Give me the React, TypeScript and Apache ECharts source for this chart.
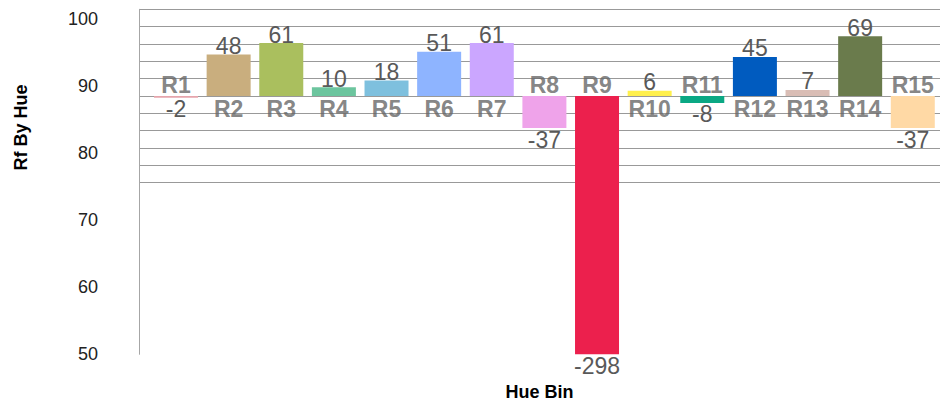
import React, { useEffect, useRef } from "react";
import * as echarts from "echarts";

const categories = ["R1", "R2", "R3", "R4", "R5", "R6", "R7", "R8", "R9", "R10", "R11", "R12", "R13", "R14", "R15"];
const values = [-2, 48, 61, 10, 18, 51, 61, -37, -298, 6, -8, 45, 7, 69, -37];
const barColors = [
  "#E6A5AC", "#C9AE7E", "#AABF5E", "#6CC59E", "#7EC0DE", "#8EB4FF", "#CBA6FF", "#EFA3EA",
  "#EC204D", "#FFF04D", "#0AA884", "#005BBF", "#D9BDB5", "#6A7B4C", "#FFD9A5",
];
const leftTicks = [50, 60, 70, 80, 90, 100];
const gridValues = [-100, 100]; // gridline range (every 20)

const FONT = "'Liberation Sans', Arial, sans-serif";

export default function App() {
  const ref = useRef<HTMLDivElement>(null);
  useEffect(() => {
    document.body.style.margin = "0";
    if (!ref.current) return;
    const chart = echarts.init(ref.current, null, { renderer: "svg" });
    const option: any = {
      animation: false,
      textStyle: { fontFamily: FONT },
      grid: [
        { left: 149.7, right: 0.9, top: 9.3, bottom: 48.7, outerBoundsMode: "none", containLabel: false },
        { left: 139, right: 0, top: 9.3, bottom: 220.3, outerBoundsMode: "none", containLabel: false },
      ],
      graphic: [
        {
          type: "text",
          x: 21,
          y: 127.5,
          rotation: Math.PI / 2,
          style: {
            text: "Rf By Hue",
            fontFamily: FONT,
            fontWeight: "bold",
            fontSize: 18,
            fill: "#000",
            textAlign: "center",
            textVerticalAlign: "middle",
          },
        },
      ],
      xAxis: [
        {
          type: "category",
          gridIndex: 0,
          data: categories,
          axisLine: { show: false },
          axisTick: { show: false },
          axisLabel: { show: false },
          splitLine: { show: false },
        },
        {
          type: "value",
          gridIndex: 1,
          axisLine: { show: false },
          axisTick: { show: false },
          axisLabel: { show: false },
          splitLine: { show: false },
          name: "Hue Bin",
          nameLocation: "middle",
          nameGap: 200,
          nameTextStyle: { fontFamily: FONT, fontWeight: "bold", fontSize: 18, color: "#000" },
        },
      ],
      yAxis: [
        {
          type: "value",
          gridIndex: 0,
          position: "right",
          min: -298,
          max: 100,
          show: false,
        },
        {
          type: "value",
          gridIndex: 0,
          position: "left",
          offset: 10.7,
          min: leftTicks[0],
          max: 101.5,
          interval: 10,
          axisLine: { show: true, lineStyle: { color: "#A6A6A6", width: 1 } },
          axisTick: { show: false },
          splitLine: { show: false },
          axisLabel: {
            show: true,
            margin: 41,
            fontSize: 18,
            color: "#222",
            fontFamily: FONT,
            showMaxLabel: false,
            formatter: (v: number) => (leftTicks.indexOf(v) >= 0 ? String(v) : ""),
          },
        },
        {
          type: "value",
          gridIndex: 1,
          min: gridValues[0],
          max: gridValues[1],
          interval: 20,
          axisLine: { show: false },
          axisTick: { show: false },
          axisLabel: { show: false },
          splitLine: { show: true, lineStyle: { color: "#999999", width: 1 } },
        },
      ],
      series: [
        {
          type: "bar",
          xAxisIndex: 0,
          yAxisIndex: 0,
          barWidth: 44,
          data: values.map((v, i) => ({
            value: v,
            itemStyle: { color: barColors[i] },
            label: {
              position: v >= 0 ? "top" : "bottom",
              distance: v >= 0 ? -3 : 0,
            },
          })),
          label: {
            show: true,
            formatter: "{c}",
            fontSize: 23,
            color: "#595959",
            fontFamily: FONT,
          },
        },
        {
          type: "scatter",
          xAxisIndex: 0,
          yAxisIndex: 0,
          symbolSize: 1,
          itemStyle: { color: "rgba(0,0,0,0)" },
          data: values.map((v) => ({
            value: 0,
            label: {
              position: v >= 0 ? "bottom" : "top",
              distance: v >= 0 ? 1 : -1,
            },
          })),
          label: {
            show: true,
            formatter: (p: any) => categories[p.dataIndex],
            fontSize: 23,
            fontWeight: "bold",
            color: "#666",
            fontFamily: FONT,
          },
          z: 3,
        },
      ],
    };
    chart.setOption(option);
    return () => chart.dispose();
  }, []);
  return <div ref={ref} style={{ width: 940, height: 403 }} />;
}
